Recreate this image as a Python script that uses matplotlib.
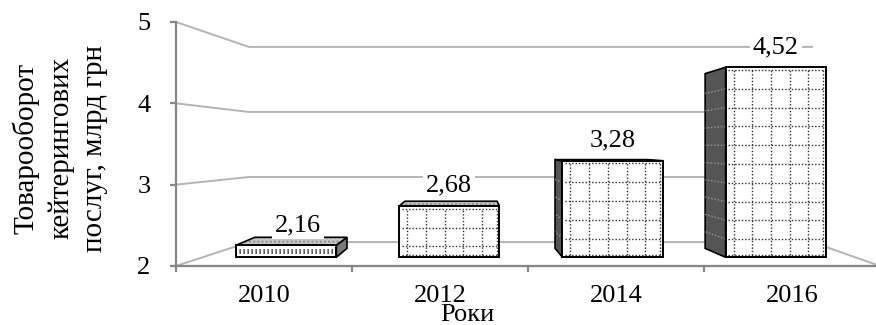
import numpy as np
import matplotlib.pyplot as plt
from matplotlib.patches import Polygon
from matplotlib.lines import Line2D

# turnover of catering services, bln UAH
years = ['2010', '2012', '2014', '2016']
turnover = [2.16, 2.68, 3.28, 4.52]
y_ticks = [2, 3, 4, 5]

plt.rcParams['font.family'] = ['Liberation Serif', 'DejaVu Serif']
plt.rcParams['font.size'] = 19

fig = plt.figure(figsize=(8.76, 3.25), dpi=100)
ax = fig.add_axes([176/876, 59/325, 704/876, 244/325])
ax.set_xlim(0, 4)
ax.set_ylim(2, 5)

# fake 3d: every point is shrunk towards the eye level
EYE_V = 3.47
WALL_X, WALL_S = 2.07, 0.80      # back wall
FRONT_X, FRONT_S = 2.23, 0.927   # front plane of the bars
DEPTH_X, DEPTH_S = 1.67, 0.92    # back plane of the bars, relative to front
HALF_W = 0.307

# one pixel in axis units (x per category, y per value)
PX_X = 1/176
PX_V = 1/81


def shrink(p, cx, s):
    return (cx + s*(p[0] - cx), EYE_V + s*(p[1] - EYE_V))


grid_c = '#b4b4b4'
axis_c = '#868686'

# left wall, back wall and floor
for v in y_ticks:
    back_l = shrink((0, v), WALL_X, WALL_S)
    back_r = shrink((4, v), WALL_X, WALL_S)
    xs = [0, back_l[0], back_r[0]]
    ys = [v, back_l[1], back_r[1]]
    if v == 2:
        xs.append(4)
        ys.append(2)
    ax.plot(xs, ys, color=grid_c, lw=1.4, zorder=1, clip_on=False)


def dotted(x, y, color='#2e2e2e', lw=1.0, z=4):
    ax.add_line(Line2D(x, y, color=color, lw=lw, ls=(0, (1, 1.4)),
                       zorder=z, clip_on=False))


for i, val in enumerate(turnover):
    xc = i + 0.5
    fl = shrink((xc - HALF_W, 2), FRONT_X, FRONT_S)
    fr = shrink((xc + HALF_W, 2), FRONT_X, FRONT_S)
    ftl = shrink((xc - HALF_W, val), FRONT_X, FRONT_S)
    ftr = shrink((xc + HALF_W, val), FRONT_X, FRONT_S)
    bl, br, btl, btr = [shrink(p, DEPTH_X, DEPTH_S) for p in (fl, fr, ftl, ftr)]
    z = 3 + i * 0.01

    # side faces
    if btl[0] < ftl[0]:
        ax.add_patch(Polygon([ftl, btl, bl, fl], closed=True, fc='#555555',
                             ec='black', lw=1.2, zorder=z, clip_on=False))
    if btr[0] > ftr[0]:
        ax.add_patch(Polygon([ftr, btr, br, fr], closed=True, fc='#7a7a7a',
                             ec='black', lw=1.2, zorder=z, clip_on=False))
    # top face
    if btl[1] > ftl[1]:
        ax.add_patch(Polygon([ftl, ftr, btr, btl], closed=True, fc='#c6c6c6',
                             ec='#8c8c8c', hatch='....', lw=0, zorder=z,
                             clip_on=False))
        ax.add_patch(Polygon([ftl, ftr, btr, btl], closed=True, fill=False,
                             ec='black', lw=1.2, zorder=z + 0.002, clip_on=False))

    # front face
    ax.add_patch(Polygon([fl, fr, ftr, ftl], closed=True, fc='white',
                         ec='none', zorder=z + 0.003, clip_on=False))
    left, right = fl[0], fr[0]
    bottom, top = fl[1], ftl[1]
    zz = z + 0.004
    if (top - bottom) / PX_V < 20:
        ymid = (top + bottom) / 2
        ax.add_line(Line2D([left + 3*PX_X, right - 3*PX_X], [ymid, ymid],
                           color='#2e2e2e', lw=3.6, ls=(0, (0.25, 0.55)),
                           zorder=zz, clip_on=False))
    else:
        gx = left + 8*PX_X
        while gx < right - 4*PX_X:
            dotted([gx, gx], [bottom + 2.5*PX_V, top - 2.5*PX_V], z=zz)
            gx += 18.7*PX_X
        gy = top - 21.5*PX_V
        while gy > bottom + 4*PX_V:
            dotted([left + 2.5*PX_X, right - 2.5*PX_X], [gy, gy], z=zz)
            # same rows on the dark side face
            if btl[0] < ftl[0]:
                q = shrink((left, gy), DEPTH_X, DEPTH_S)
                dotted([left, q[0]], [gy, q[1]], color='#9a9a9a', z=zz)
            gy -= 18.7*PX_V
        for yy in (top - 2.5*PX_V, bottom + 2.5*PX_V):
            dotted([left + 2.5*PX_X, right - 2.5*PX_X], [yy, yy], z=zz)
        dotted([right - 2.5*PX_X] * 2, [bottom + 2.5*PX_V, top - 2.5*PX_V], z=zz)
    ax.add_patch(Polygon([fl, fr, ftr, ftl], closed=True, fill=False,
                         ec='black', lw=1.4, zorder=z + 0.005, clip_on=False))

    # value label, pushed a bit right on the flat first bar
    lx = (left + right) / 2 + (12*PX_X if i == 0 else 0)
    ax.text(lx, top + 14*PX_V, f'{val:.2f}'.replace('.', ','),
            ha='center', va='baseline', zorder=6,
            bbox=dict(fc='white', ec='none', pad=2))

# axes
for side in ('top', 'right'):
    ax.spines[side].set_visible(False)
for side in ('left', 'bottom'):
    ax.spines[side].set_color(axis_c)
    ax.spines[side].set_linewidth(1.6)
    ax.spines[side].set_zorder(2)
ax.set_yticks(y_ticks)
ax.tick_params(axis='y', length=4.3, width=1.6, color=axis_c, pad=14)
ax.set_xticks(range(5))
ax.set_xticklabels([])
ax.set_xticks(np.arange(len(years)) + 0.5, minor=True)
ax.set_xticklabels(years, minor=True)
ax.tick_params(axis='x', which='major', length=4.3, width=1.6, color=axis_c)
ax.tick_params(axis='x', which='minor', length=0, pad=14)
ax.patch.set_visible(False)

fig.text(467/876, 4/325, 'Роки', ha='center', va='baseline')
fig.text(60/876, 1 - 148/325,
         'Товарооборот\nкейтерингових\nпослуг, млрд грн',
         rotation=90, ha='center', va='center', multialignment='center',
         fontsize=21, linespacing=1.39)

fig.savefig('out.png', dpi=100)
